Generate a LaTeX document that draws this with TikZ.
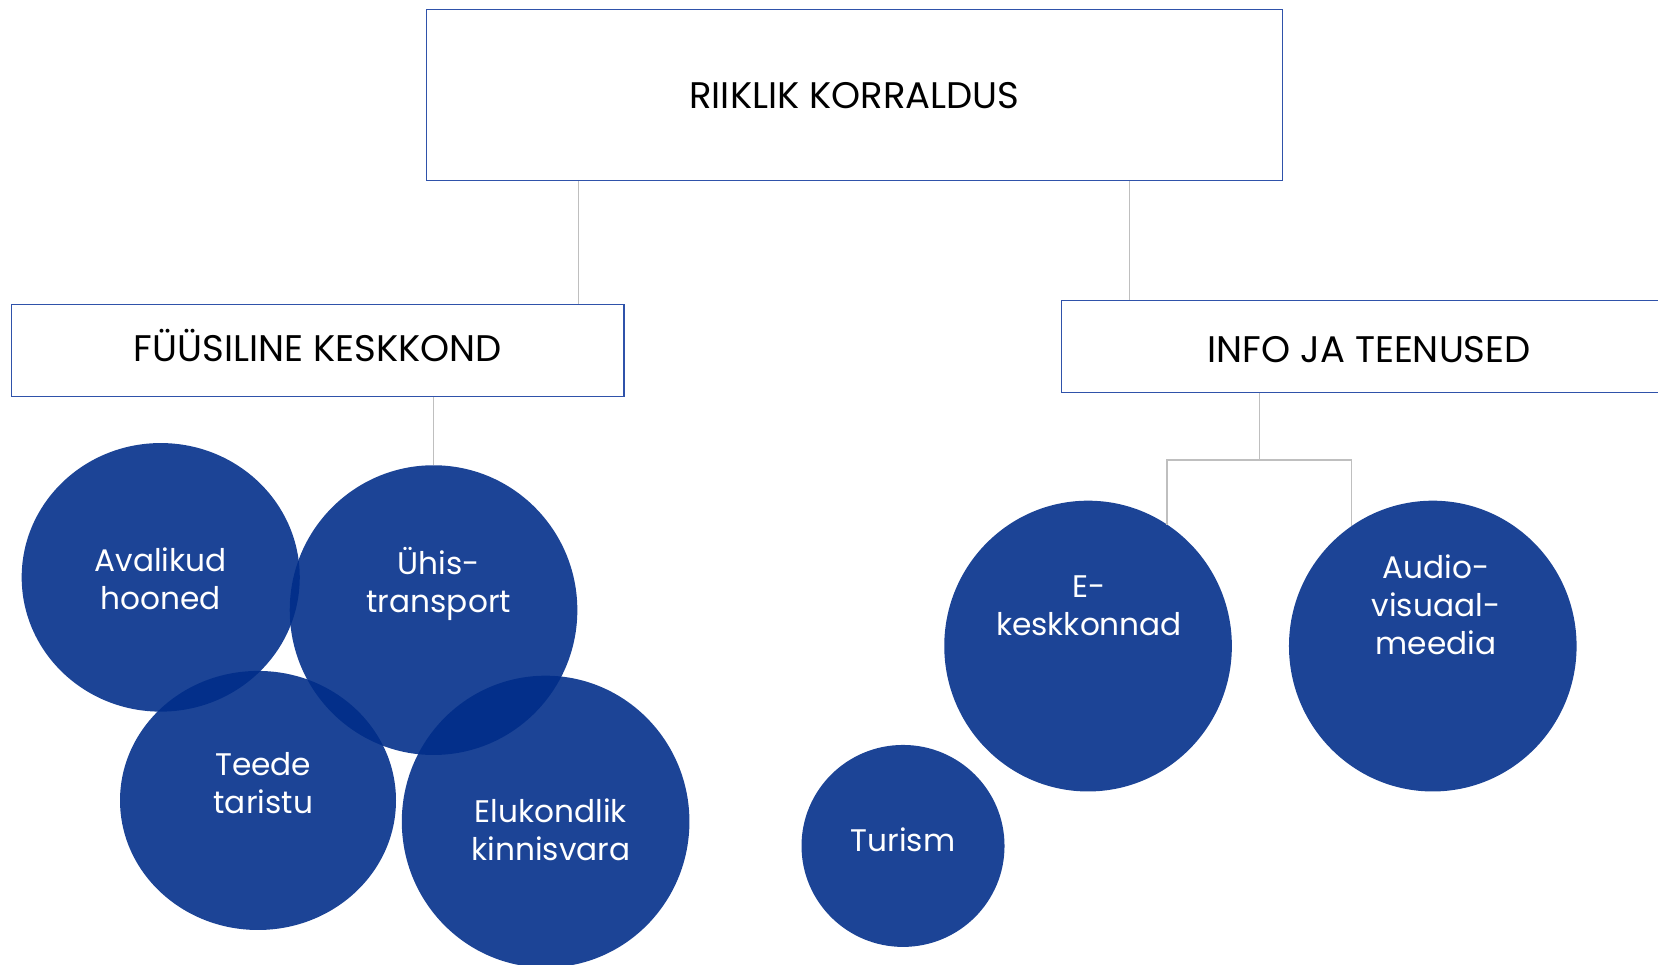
\documentclass[tikz,border=0pt]{standalone}
\usepackage{fontspec}
\setmainfont{Poppins}
\usetikzlibrary{shapes.geometric}
\definecolor{cfill}{RGB}{0,45,137}
\definecolor{boxline}{RGB}{47,82,170}
\definecolor{connc}{RGB}{191,191,191}
\begin{document}
\begin{tikzpicture}[x=1pt,y=-1pt,
  hbox/.style={draw=boxline, line width=1.2pt, fill=white, inner sep=0pt, text depth=0pt, font=\fontsize{35}{40}\selectfont},
  bub/.style={ellipse, fill=cfill, fill opacity=0.89, inner sep=0pt, outer sep=0pt},
  btxt/.style={text=white, align=center, font=\fontsize{29.5}{36}\selectfont},
  connl/.style={draw=connc, line width=1.3pt}]
\useasboundingbox (0,0) rectangle (1568,912);
\clip (0,0) rectangle (1568,912);
% boxes
\node[hbox, text height=24.4pt, minimum width=810pt, minimum height=162pt] (top) at (808,90) {RIIKLIK KORRALDUS};
\node[hbox, text height=21.4pt, minimum width=579pt, minimum height=87pt] (fk) at (300.5,331.5) {FÜÜSILINE KESKKOND};
\node[hbox, text height=31.4pt, minimum width=582pt, minimum height=87pt] (it) at (1295,327.5) {INFO JA TEENUSED};
% coordinates for connectors
\coordinate (c1) at (547,200);
\coordinate (c2) at (1068,200);
\coordinate (j) at (1191,435);
% bubbles
\node[bub, minimum width=263pt, minimum height=254pt] (ah) at (152,546) {};
\node[bub, minimum width=272pt, minimum height=274pt] (uh) at (410,577) {};
\node[bub, minimum width=261pt, minimum height=245pt] (tt) at (244,757) {};
\node[bub, minimum width=272pt, minimum height=276pt] (ev) at (516,777) {};
\node[bub, minimum width=272pt, minimum height=275pt] (ek) at (1029,611) {};
\node[bub, minimum width=272pt, minimum height=275pt] (av) at (1355,611) {};
\node[bub, minimum width=192pt, minimum height=191pt] (tu) at (854,800) {};
% connectors
\draw[connl] (top.south -| c1) -- (fk.north -| c1);
\draw[connl] (top.south -| c2) -- (it.north -| c2);
\draw[connl] (fk.south -| uh.north) -- (uh.north);
\draw[connl] (it.south -| j) -- (j);
\draw[connl] (ek.57) -- (ek.57 |- j) -- (av.124 |- j) -- (av.124);
% bubble texts
\node[btxt] (ah-t) at (152,547) {Avalikud\\hooned};
\node[btxt] (uh-t) at (415,552) {Ühis-\\transport};
\node[btxt] (tt-t) at (249,741) {Teede\\taristu};
\node[btxt] (ev-t) at (521,785) {Elukondlik\\kinnisvara};
\node[btxt] (ek-t) at (1030,573) {E-\\keskkonnad};
\node[btxt] (av-t) at (1358,572) {Audio-\\visuaal-\\meedia};
\node[btxt] (tu-t) at (854,794) {Turism};
\end{tikzpicture}
\end{document}
